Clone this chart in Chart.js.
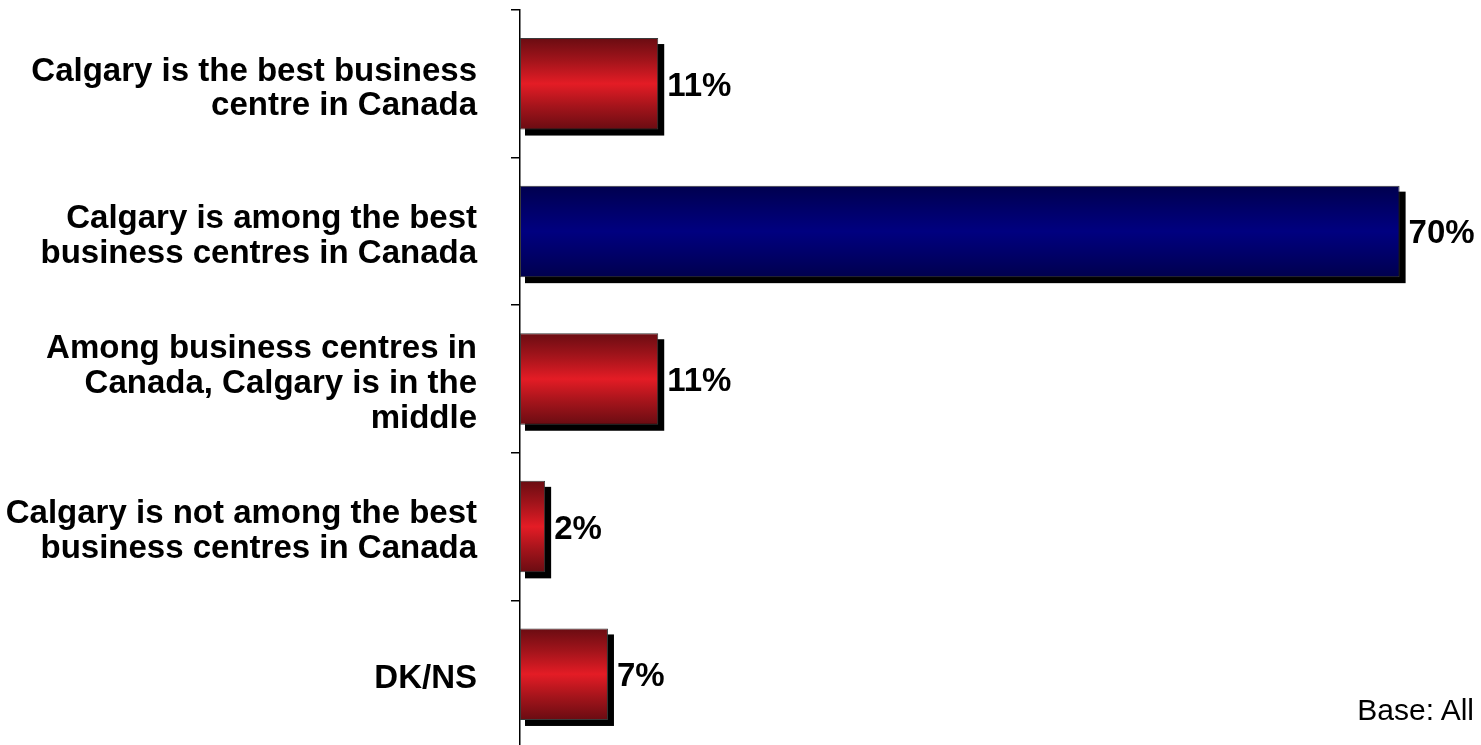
<!DOCTYPE html>
<html>
<head>
<meta charset="utf-8">
<script src="https://cdn.jsdelivr.net/npm/chart.js@4"></script>
<style>
  html, body { margin: 0; padding: 0; background: #fff; overflow: hidden; }
  #wrap { position: relative; width: 1481px; height: 752px; }
  .base-note {
    position: absolute; right: 7px; top: 693px;
    font: 30px "Liberation Sans", Arial, sans-serif; color: #000;
  }
</style>
</head>
<body>
<div id="wrap">
  <canvas id="myChart"></canvas>
  <div class="base-note">Base: All</div>
</div>
<script>
const categories = [
  ['Calgary is the best business', 'centre in Canada'],
  ['Calgary is among the best', 'business centres in Canada'],
  ['Among business centres in', 'Canada, Calgary is in the', 'middle'],
  ['Calgary is not among the best', 'business centres in Canada'],
  'DK/NS'
];
const percentValues = [11, 70, 11, 2, 7];

// style only: which palette each bar uses
const barPalette = ['red', 'blue', 'red', 'red', 'red'];
const palettes = {
  red: ['#6a0c12', '#a3141b', '#e41c25', '#a3141b', '#6a0c12'],
  blue: ['#00004e', '#000068', '#000080', '#000068', '#00004e']
};
const barPct = 0.62;
const fontFamily = '"Liberation Sans", Arial, sans-serif';

function barGradient(ctx) {
  const stops = palettes[barPalette[ctx.dataIndex] || 'red'];
  if (ctx.type !== 'data') return stops[2];
  const chart = ctx.chart;
  const yScale = chart.scales.y;
  if (!yScale) return stops[2];
  const center = yScale.getPixelForValue(ctx.dataIndex);
  const half = (yScale.height / categories.length) * barPct / 2;
  if (!isFinite(center) || !isFinite(half) || half <= 0) return stops[2];
  const g = chart.ctx.createLinearGradient(0, center - half, 0, center + half);
  for (let i = 0; i < stops.length; i++) {
    g.addColorStop(i / (stops.length - 1), stops[i]);
  }
  return g;
}

// black drop shadow behind each bar
const shadowPlugin = {
  id: 'barShadow',
  beforeDatasetsDraw(chart) {
    const c = chart.ctx;
    const meta = chart.getDatasetMeta(0);
    c.save();
    c.fillStyle = '#000';
    meta.data.forEach(bar => {
      const p = bar.getProps(['x', 'y', 'base', 'height'], true);
      c.fillRect(p.base + 5, p.y - p.height / 2 + 6, p.x - p.base + 1, p.height);
    });
    c.restore();
  }
};

// percent labels at the end of each bar
const valueLabels = {
  id: 'valueLabels',
  afterDatasetsDraw(chart) {
    const c = chart.ctx;
    const meta = chart.getDatasetMeta(0);
    c.save();
    c.font = 'bold 33px ' + fontFamily;
    c.fillStyle = '#000';
    c.textAlign = 'left';
    c.textBaseline = 'middle';
    meta.data.forEach((bar, i) => {
      c.fillText(percentValues[i] + '%', bar.x + 9, bar.y + 3);
    });
    c.restore();
  }
};

const config = {
  type: 'bar',
  data: {
    labels: categories,
    datasets: [{
      data: percentValues,
      backgroundColor: barGradient,
      borderColor: '#3a3a3a',
      borderWidth: 1,
      borderSkipped: false,
      categoryPercentage: 1,
      barPercentage: barPct
    }]
  },
  options: {
    indexAxis: 'y',
    responsive: true,
    maintainAspectRatio: false,
    animation: false,
    layout: { padding: { top: 10, bottom: 4, left: 0, right: 6 } },
    plugins: {
      legend: { display: false },
      tooltip: { enabled: false }
    },
    scales: {
      x: {
        display: false,
        min: 0,
        max: 76
      },
      y: {
        grid: {
          display: true,
          drawOnChartArea: false,
          drawTicks: true,
          tickLength: 9,
          offset: true,
          color: '#000',
          lineWidth: 1.5
        },
        border: { display: true, color: '#000', width: 1.5 },
        ticks: {
          color: '#000',
          padding: 34,
          labelOffset: 5,
          font: { family: fontFamily, size: 33, weight: 'bold', lineHeight: 1.05 }
        },
        afterFit(scale) {
          scale.width = 520;
          scale.paddingTop = 0;
          scale.paddingBottom = 0;
        }
      }
    }
  },
  plugins: [shadowPlugin, valueLabels]
};

new Chart(document.getElementById('myChart'), config);
</script>
</body>
</html>
